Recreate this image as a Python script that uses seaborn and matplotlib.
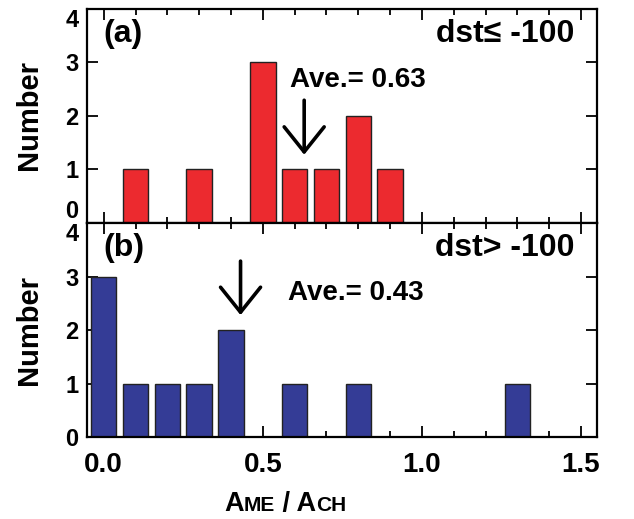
import numpy as np
import pandas as pd
import matplotlib
matplotlib.use("Agg")
import matplotlib.pyplot as plt
import seaborn as sns
from matplotlib.ticker import MultipleLocator, FormatStrFormatter
from matplotlib.offsetbox import TextArea, HPacker, AnnotationBbox

# Data
a_centers = [0.1, 0.3, 0.5, 0.6, 0.7, 0.8, 0.9]
a_counts = [1, 1, 3, 1, 1, 2, 1]
b_centers = [0.0, 0.1, 0.2, 0.3, 0.4, 0.6, 0.8, 1.3]
b_counts = [3, 1, 1, 1, 2, 1, 1, 1]
a_mean = 0.63
b_mean = 0.43
y_ticks = [0, 1, 2, 3, 4]
x_ticks = [0.0, 0.5, 1.0, 1.5]

sns.set_theme(style="white")
plt.rcParams['font.family'] = ['Liberation Sans', 'DejaVu Sans']
plt.rcParams['font.weight'] = 'bold'
for k in ['text.color', 'axes.labelcolor', 'xtick.color', 'ytick.color', 'axes.edgecolor']:
    plt.rcParams[k] = 'black'

fig = plt.figure(figsize=(6.34, 5.19), dpi=100)
ax_a = fig.add_axes([0.137, 0.571, 0.805, 0.412])
ax_b = fig.add_axes([0.137, 0.158, 0.805, 0.412], sharex=ax_a)

df_a = pd.DataFrame({"ratio": a_centers, "count": a_counts})
df_b = pd.DataFrame({"ratio": b_centers, "count": b_counts})

sns.histplot(data=df_a, x="ratio", weights="count", binwidth=0.1, binrange=(-0.05, 1.55),
             shrink=0.8, color="#EC2A2F", alpha=1, edgecolor="#222222", linewidth=1.0, ax=ax_a)
sns.histplot(data=df_b, x="ratio", weights="count", binwidth=0.1, binrange=(-0.05, 1.55),
             shrink=0.8, color="#343C96", alpha=1, edgecolor="#222222", linewidth=1.0, ax=ax_b)

for ax in (ax_a, ax_b):
    ax.set_xlim(-0.053, 1.551)
    ax.set_ylim(0, 4)
    ax.set_yticks(y_ticks)
    ax.set_ylabel("")
    ax.set_xlabel("")
    ax.xaxis.set_major_locator(MultipleLocator(0.5))
    ax.xaxis.set_minor_locator(MultipleLocator(0.1))
    ax.xaxis.set_major_formatter(FormatStrFormatter('%.1f'))
    ax.tick_params(axis='both', which='major', direction='in', length=8, width=1.3,
                   top=True, right=True, bottom=True, left=True, color='black')
    ax.tick_params(axis='y', labelsize=17, pad=6)
    ax.tick_params(axis='x', labelsize=20, pad=11)
    ax.tick_params(axis='x', which='minor', direction='in', length=4, width=1.3,
                   top=True, bottom=True, color='black')
    for sp in ax.spines.values():
        sp.set_color('black')
        sp.set_linewidth(1.6)
        sp.set_visible(True)
    for lab in ax.get_yticklabels() + ax.get_xticklabels():
        lab.set_fontweight('bold')
        lab.set_color('black')
    ax.grid(False)

ax_a.tick_params(axis='x', labelbottom=False)

# nudge extreme y tick labels inward like the original
ylabs_a = ax_a.get_yticklabels()
ylabs_a[-1].set_va('top')
ylabs_a[0].set_va('bottom')
ylabs_b = ax_b.get_yticklabels()
ylabs_b[-1].set_va('top')

# y labels
fig.text(29 / 634, 1 - 115 / 519, "Number", rotation=90, fontsize=21, fontweight='bold',
         ha='center', va='center')
fig.text(29 / 634, 1 - 330 / 519, "Number", rotation=90, fontsize=21, fontweight='bold',
         ha='center', va='center')

arrow_kw = dict(arrowstyle="->,head_length=0.9,head_width=0.72", lw=2.6, color='black',
                shrinkA=0, shrinkB=0, mutation_scale=20)

# annotations panel a
ax_a.text(0.0, 3.53, "(a)", fontsize=23, fontweight='bold', va='center', ha='left')
ax_a.text(1.48, 3.53, "dst\u2264 -100", fontsize=23, fontweight='bold', va='center', ha='right')
ax_a.text(0.584, 2.67, "Ave.= 0.63", fontsize=20, fontweight='bold', va='center', ha='left')
ax_a.annotate("", xy=(a_mean, 1.27), xytext=(a_mean, 2.29), arrowprops=arrow_kw)

# panel b
ax_b.text(0.0, 3.53, "(b)", fontsize=23, fontweight='bold', va='center', ha='left')
ax_b.text(1.48, 3.53, "dst> -100", fontsize=23, fontweight='bold', va='center', ha='right')
ax_b.text(0.58, 2.69, "Ave.= 0.43", fontsize=20, fontweight='bold', va='center', ha='left')
ax_b.annotate("", xy=(b_mean, 2.28), xytext=(b_mean, 3.29), arrowprops=arrow_kw)

# x label with small caps
fam = ['Liberation Sans', 'DejaVu Sans']
big = dict(fontsize=19.5, fontweight='bold', color='black', family=fam)
small = dict(fontsize=15, fontweight='bold', color='black', family=fam)
parts = [TextArea("A", textprops=big), TextArea("ME", textprops=small),
         TextArea(" / A", textprops=big), TextArea("CH", textprops=small)]
pack = HPacker(children=parts, align="baseline", pad=0, sep=0)
ab = AnnotationBbox(pack, (285, 519 - 504), xycoords='figure pixels', frameon=False,
                    box_alignment=(0.5, 0.5))
fig.add_artist(ab)

fig.savefig("out.png", dpi=100)
